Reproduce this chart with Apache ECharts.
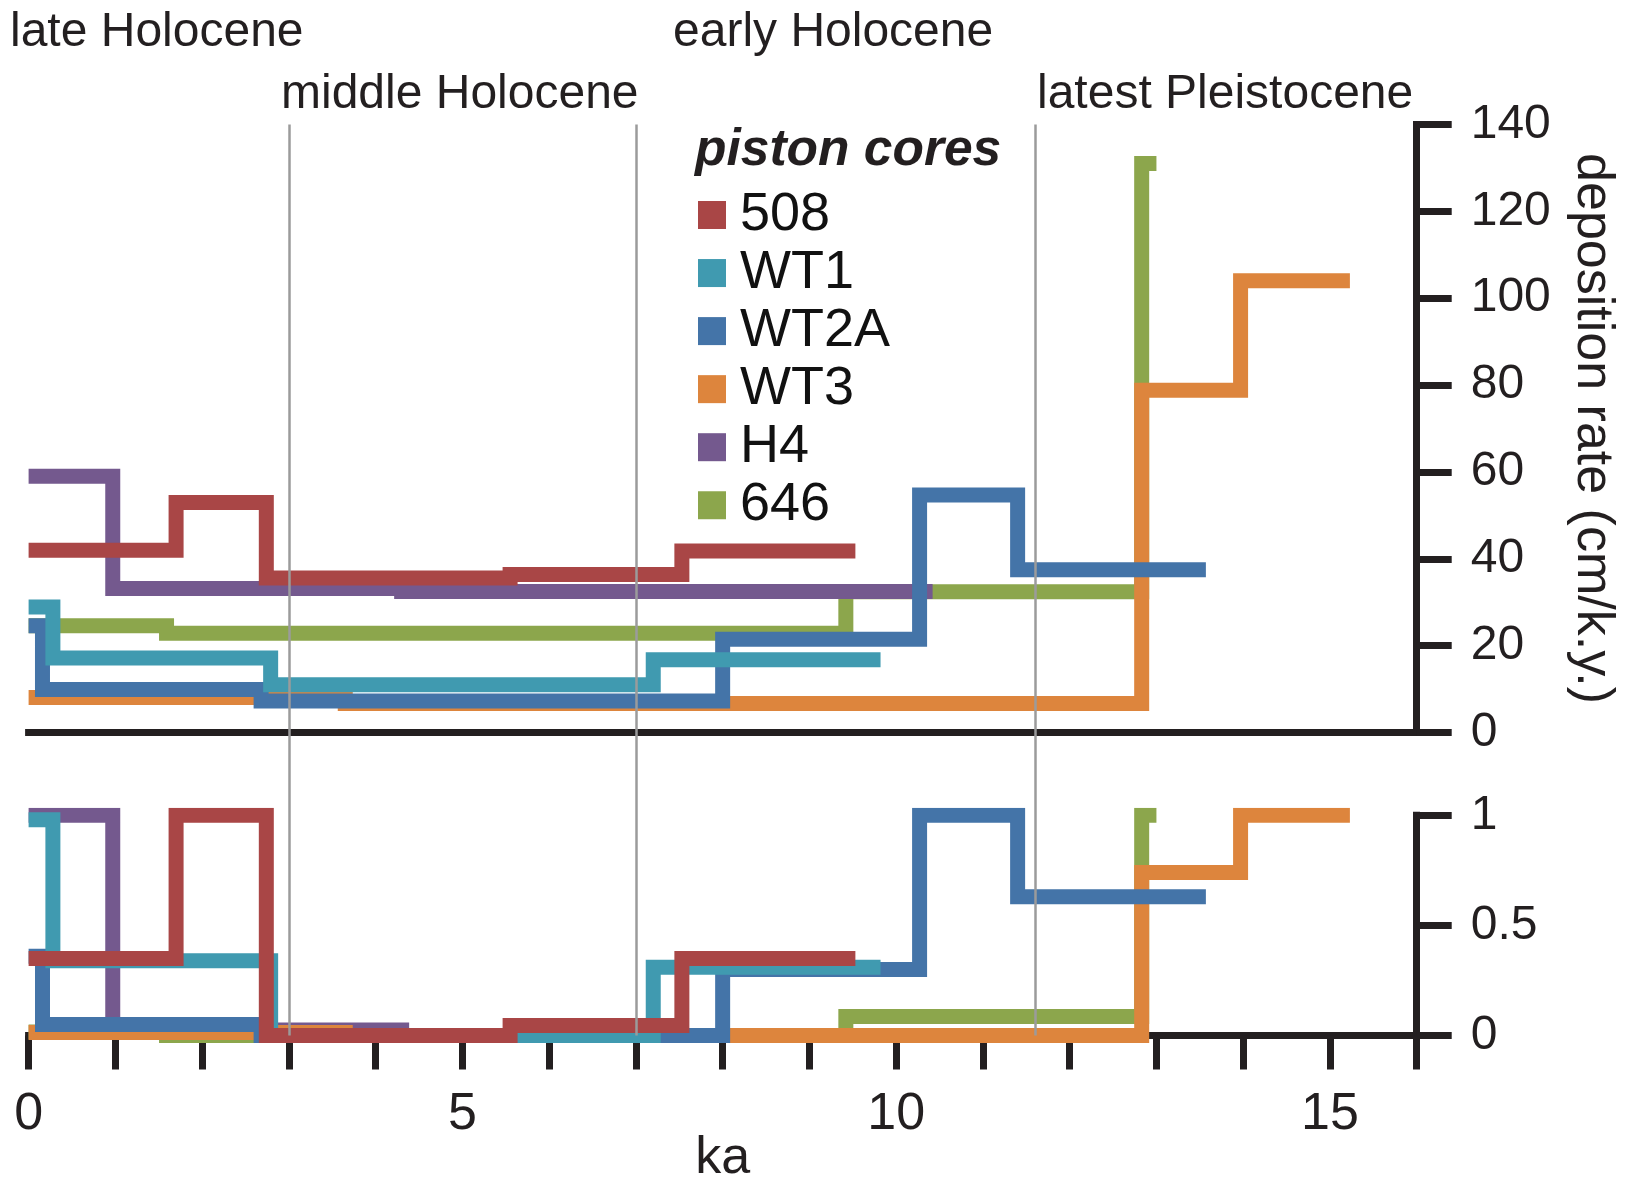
<!DOCTYPE html>
<html><head><meta charset="utf-8">
<script src="https://cdn.jsdelivr.net/npm/echarts@6/dist/echarts.min.js"></script>
<style>html,body{margin:0;padding:0;background:#fff}#c{width:1627px;height:1180px}</style>
</head><body><div id="c"></div>
<script>
// ---- data (ka edges of each step, deposition rate cm/k.y., normalised rate) ----
const cores = ['508', 'WT1', 'WT2A', 'WT3', 'H4', '646'];
const colors = ['#A94646', '#409AB0', '#4474A8', '#DD853D', '#74598E', '#8CA64C'];

const edges508 = [0, 1.7, 2.74, 5.55, 7.53, 9.53];
const rate508  = [42, 53, 35.6, 36.4, 41.8];
const norm508  = [0.35, 1, 0, 0.045, 0.35];

const edgesWT1 = [0, 0.28, 2.79, 7.2, 9.82];
const rateWT1  = [28.9, 17.2, 11, 16.8];
const normWT1  = [0.98, 0.34, 0, 0.31];

const edgesWT2A = [0, 0.16, 2.68, 8.0, 10.27, 11.4, 13.57];
const rateWT2A  = [24.6, 9.9, 7.3, 21.5, 54.7, 37.5];
const normWT2A  = [0.36, 0.05, 0, 0.3, 1, 0.63];

const edgesWT3 = [0, 3.65, 12.83, 13.97, 15.23];
const rateWT3  = [8.1, 6.7, 78.8, 104];
const normWT3  = [0.014, 0, 0.74, 1];

const edgesH4 = [0, 0.97, 4.3, 10.42];
const rateH4  = [59, 33.2, 32.5];
const normH4  = [1, 0.025, 0];

const edges646 = [0, 1.59, 9.42, 12.83, 13.0];
const rate646  = [24.6, 22.9, 32.4, 131];
const norm646  = [0.016, 0, 0.086, 1];

const rateTicks = [0, 20, 40, 60, 80, 100, 120, 140];
const normTicks = ['0', '0.5', '1'];
const kaTickLabels = ['0', '5', '10', '15'];
const periodLines = [3, 7, 11.6];
const periodNames = ['late Holocene', 'middle Holocene', 'early Holocene', 'latest Pleistocene'];

// ---- build ----
function steps(edges, vals) {
  const d = vals.map((v, i) => [edges[i], v]);
  d.push([edges[edges.length - 1], vals[vals.length - 1]]);
  return d;
}
const table = {
  '508': [edges508, rate508, norm508],
  'WT1': [edgesWT1, rateWT1, normWT1],
  'WT2A': [edgesWT2A, rateWT2A, normWT2A],
  'WT3': [edgesWT3, rateWT3, normWT3],
  'H4': [edgesH4, rateH4, normH4],
  '646': [edges646, rate646, norm646]
};
const drawOrder = ['646', 'H4', 'WT3', 'WT2A', 'WT1', '508'];
const INK = '#231f20';
const FONT = "'Liberation Sans', Arial, Helvetica, sans-serif";
const L = 28.6, W = 1388.1;

const series = [];
drawOrder.forEach(name => {
  const [e, r, n] = table[name];
  const color = colors[cores.indexOf(name)];
  [[0, r], [1, n]].forEach(([g, vals]) => {
    series.push({
      name, type: 'line', step: 'end', xAxisIndex: g, yAxisIndex: g,
      data: steps(e, vals), showSymbol: false, symbol: 'none', color,
      lineStyle: { color, width: 15, cap: 'butt', join: 'miter' },
      silent: true, z: 2
    });
  });
});
series.push({
  type: 'line', xAxisIndex: 2, yAxisIndex: 2, data: [[0, 0]], symbol: 'none',
  lineStyle: { opacity: 0 }, silent: true, z: 10,
  markLine: {
    symbol: 'none', silent: true, label: { show: false },
    lineStyle: { color: '#9b9b9b', width: 2.5, type: 'solid' },
    data: periodLines.map(v => ({ xAxis: v }))
  }
});

const xLine = { show: true, onZero: false, lineStyle: { color: INK, width: 7, cap: 'square' } };
const yLine = { show: true, onZero: false, lineStyle: { color: INK, width: 7, cap: 'square' } };
const axisTick = (len) => ({ show: true, inside: false, length: len, lineStyle: { color: INK, width: 7 } });

const option = {
  animation: false,
  backgroundColor: '#fff',
  textStyle: { fontFamily: FONT },
  grid: [
    { left: L, width: W, top: 124.5, height: 608.1, containLabel: false, outerBoundsMode: 'none' },
    { left: L, width: W, top: 815.3, height: 220.2, containLabel: false, outerBoundsMode: 'none' },
    { left: L, width: W, top: 124.5, height: 911, containLabel: false, outerBoundsMode: 'none' }
  ],
  xAxis: [
    { gridIndex: 0, type: 'value', min: 0, max: 16, position: 'bottom', axisLine: xLine, axisTick: { show: false },
      axisLabel: { show: false }, splitLine: { show: false } },
    { gridIndex: 1, type: 'value', min: 0, max: 16, interval: 1, position: 'bottom', axisLine: xLine, axisTick: axisTick(34),
      axisLabel: { color: INK, fontSize: 52, fontFamily: FONT, margin: 53,
        formatter: v => kaTickLabels.includes(String(v)) ? String(v) : '' },
      splitLine: { show: false },
      name: 'ka', nameLocation: 'middle', nameGap: 97, nameMoveOverlap: false,
      nameTextStyle: { color: INK, fontSize: 52, fontFamily: FONT } },
    { gridIndex: 2, type: 'value', min: 0, max: 16, show: false }
  ],
  yAxis: [
    { gridIndex: 0, type: 'value', position: 'right', min: 0, max: 140, interval: 20,
      axisLine: yLine, axisTick: axisTick(35), splitLine: { show: false },
      axisLabel: { color: INK, fontSize: 48, fontFamily: FONT, margin: 54,
        formatter: v => rateTicks.includes(v) ? String(v) : '' },
      name: 'deposition rate (cm/k.y.)', nameLocation: 'middle', nameRotate: -90, nameGap: 150,
      nameTextStyle: { color: INK, fontSize: 52, fontFamily: FONT } },
    { gridIndex: 1, type: 'value', position: 'right', min: 0, max: 1, interval: 0.5,
      axisLine: yLine, axisTick: axisTick(35), splitLine: { show: false },
      axisLabel: { color: INK, fontSize: 48, fontFamily: FONT, margin: 54,
        formatter: v => normTicks[Math.round(v * 2)] } },
    { gridIndex: 2, type: 'value', min: 0, max: 1, show: false }
  ],
  legend: {
    data: cores, orient: 'vertical', left: 693, top: 183,
    icon: 'rect', itemWidth: 28, itemHeight: 28, itemGap: 4.05,
    selectedMode: false,
    textStyle: { color: '#111', fontSize: 54, fontFamily: FONT, lineHeight: 28, padding: [0, 0, 0, 9] }
  },
  graphic: [
    { type: 'text', left: 695, top: 125, style: { text: 'piston cores', font: "italic bold 51.5px 'Liberation Sans', Arial, sans-serif", fill: INK } },
    { type: 'text', x: 10, y: 33, style: { text: periodNames[0], font: "48px 'Liberation Sans', Arial, sans-serif", fill: INK, verticalAlign: 'middle' } },
    { type: 'text', x: 281, y: 95, style: { text: periodNames[1], font: "48px 'Liberation Sans', Arial, sans-serif", fill: INK, verticalAlign: 'middle' } },
    { type: 'text', x: 673, y: 33, style: { text: periodNames[2], font: "48px 'Liberation Sans', Arial, sans-serif", fill: INK, verticalAlign: 'middle' } },
    { type: 'text', x: 1037, y: 95, style: { text: periodNames[3], font: "48px 'Liberation Sans', Arial, sans-serif", fill: INK, verticalAlign: 'middle' } }
  ],
  series
};
const chart = echarts.init(document.getElementById('c'), null, { renderer: 'canvas' });
chart.setOption(option);
</script>
</body></html>
